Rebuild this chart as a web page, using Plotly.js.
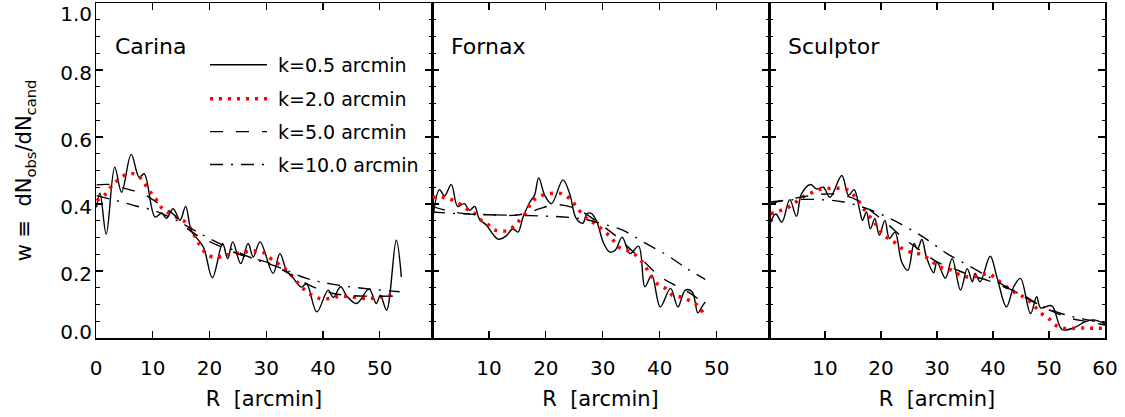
<!DOCTYPE html>
<html>
<head>
<meta charset="utf-8">
<script src="https://cdn.plot.ly/plotly-3.0.1.min.js"></script>
<style>html,body{margin:0;padding:0;background:#fff;}#chart{width:1125px;height:417px;}</style>
</head>
<body>
<div id="chart"></div>
<script>
// ---------- data ----------
const panelNames = ["Carina", "Fornax", "Sculptor"];
const seriesNames = ["k=0.5 arcmin", "k=2.0 arcmin", "k=5.0 arcmin", "k=10.0 arcmin"];
const xTickVals1 = [0, 10, 20, 30, 40, 50];
const xTickVals2 = [10, 20, 30, 40, 50];
const xTickVals3 = [10, 20, 30, 40, 50, 60];
const yTickVals = [0, 0.2, 0.4, 0.6, 0.8, 1.0];

// Carina
const carinaR05 = [0.1,0.7,1.8,3.3,4.5,6.2,7.6,8.5,10.4,11.6,12.4,13.6,14.8,15.8,16.8,18.9,20.5,22.3,23.2,24.1,25.5,26.8,27.7,28.9,31.2,32.4,33.6,34.7,36.2,37.1,38.9,40.9,41.8,43.1,44.2,45.9,48.1,49.4,50.1,51.2,52.9,53.8];
const carinaW05 = [0.39,0.432,0.31,0.51,0.435,0.548,0.48,0.49,0.361,0.373,0.357,0.386,0.351,0.393,0.321,0.272,0.18,0.282,0.237,0.287,0.222,0.282,0.242,0.287,0.193,0.252,0.2,0.18,0.152,0.162,0.078,0.143,0.121,0.153,0.125,0.103,0.146,0.103,0.128,0.083,0.292,0.182];
const carinaR2 = [0.1,1.7,2.6,3.75,5.2,6.7,8.0,9.0,9.9,10.8,11.7,13.0,14.8,16.1,17.0,17.8,18.5,19.6,21.1,22.8,24.6,26.4,27.8,29.3,30.8,32.1,33.3,34.7,36.5,38.0,39.4,41.2,43.0,44.7,47.7,50.6,52.6];
const carinaW2 = [0.41,0.43,0.45,0.47,0.487,0.49,0.475,0.45,0.429,0.409,0.386,0.371,0.356,0.341,0.316,0.292,0.272,0.249,0.24,0.247,0.252,0.257,0.26,0.257,0.237,0.222,0.207,0.182,0.148,0.128,0.118,0.118,0.125,0.123,0.118,0.123,0.133];
const carinaR5 = [0.1,2.4,5.4,8.3,10.7,13.6,15.5,17.5,20.2,24.3,27.0,30.0,33.0,35.9,38.9,41.8,44.5,47.7,53.2];
const carinaW5 = [0.457,0.458,0.445,0.43,0.405,0.37,0.335,0.31,0.286,0.256,0.24,0.227,0.202,0.173,0.148,0.133,0.127,0.125,0.125];
const carinaR10 = [0.1,3.6,6.6,10.1,14.2,18.3,23.0,27.7,32.4,37.1,41.8,47.7,53.5];
const carinaW10 = [0.425,0.41,0.396,0.381,0.351,0.312,0.272,0.237,0.21,0.178,0.16,0.147,0.138];

// Fornax
const fornaxR05 = [0,1.3,2.2,3.4,4.5,5.7,6.6,7.5,8.3,9.6,10.7,11.6,13.0,14.2,15.1,16.0,17.2,18.0,18.75,19.8,21.0,23.0,24.2,25.3,26.5,27.2,28.0,29.0,30.1,31.2,32.2,33.4,34.8,36.3,37.4,38.6,40.1,41.9,43.2,44.5,45.7,46.7,47.4,48.0];
const fornaxW05 = [0.336,0.443,0.424,0.458,0.393,0.401,0.381,0.393,0.356,0.336,0.31,0.295,0.304,0.326,0.316,0.361,0.406,0.426,0.478,0.426,0.401,0.472,0.43,0.358,0.343,0.371,0.372,0.345,0.285,0.257,0.262,0.301,0.252,0.274,0.153,0.187,0.093,0.148,0.093,0.143,0.138,0.075,0.093,0.108];
const fornaxR2 = [0.1,1.9,3.4,4.8,6.0,7.2,8.3,9.8,11.0,12.5,13.6,14.8,16.6,17.5,18.6,20.1,21.6,23.0,24.5,25.4,26.6,27.7,28.6,30.1,31.6,32.7,34.2,35.4,36.6,37.7,39.5,41.0,42.2,43.6,45.1,46.6,47.7];
const fornaxW2 = [0.42,0.42,0.413,0.401,0.386,0.376,0.356,0.339,0.323,0.319,0.323,0.341,0.376,0.406,0.42,0.43,0.432,0.43,0.411,0.391,0.366,0.351,0.341,0.321,0.297,0.272,0.262,0.252,0.234,0.207,0.163,0.148,0.128,0.123,0.113,0.098,0.073];
const fornaxR5 = [0,2.5,5.4,8.3,11.3,14.2,16.6,18.9,21.9,24.2,26.6,28.9,31.9,34.2,37.0,40.1,43.0,45.4,48.0];
const fornaxW5 = [0.393,0.381,0.372,0.369,0.367,0.366,0.372,0.386,0.398,0.392,0.375,0.348,0.31,0.275,0.232,0.183,0.155,0.133,0.1];
const fornaxR10 = [0,4.8,9.5,15.4,21.3,24.8,27.2,30.1,33.6,37.1,41.3,44.8,48.0];
const fornaxW10 = [0.376,0.371,0.368,0.366,0.363,0.359,0.353,0.34,0.321,0.287,0.247,0.207,0.175];

// Sculptor
const sculptorR05 = [0.2,1.2,2.3,3.7,4.9,5.8,7.4,8.5,9.7,10.9,13.0,14.2,15.2,16.2,16.7,17.4,18.1,18.9,19.7,20.7,21.5,22.5,23.7,24.8,25.9,26.5,27.3,28.1,29.4,30.0,31.5,32.7,34.2,35.4,36.3,36.8,37.7,39.5,40.7,42.4,43.7,44.9,46.7,47.8,48.5,50.5,52.3,54.4,56.5,57.9,60];
const sculptorW05 = [0.341,0.37,0.346,0.413,0.363,0.43,0.458,0.445,0.45,0.42,0.485,0.426,0.443,0.381,0.351,0.376,0.326,0.356,0.307,0.351,0.297,0.316,0.227,0.202,0.282,0.265,0.294,0.242,0.195,0.227,0.178,0.237,0.143,0.207,0.168,0.193,0.168,0.244,0.182,0.093,0.153,0.178,0.073,0.123,0.09,0.096,0.026,0.03,0.049,0.054,0.042];
const sculptorR2 = [0.3,1.8,3.3,4.8,5.9,7.4,8.9,10.4,12.2,13.9,15.5,16.9,19.0,20.5,22.3,23.8,25.6,27.0,28.5,30.0,31.2,32.7,34.2,36.0,37.7,39.2,40.7,42.2,43.7,44.9,46.3,47.5,48.7,49.9,51.1,52.6,54.7,56.5,57.9,59.7];
const sculptorW2 = [0.371,0.379,0.389,0.406,0.42,0.432,0.443,0.446,0.447,0.443,0.42,0.386,0.341,0.307,0.287,0.267,0.255,0.25,0.237,0.217,0.207,0.202,0.187,0.182,0.187,0.192,0.175,0.155,0.138,0.128,0.113,0.093,0.073,0.059,0.039,0.029,0.029,0.03,0.029,0.029];
const sculptorR5 = [0.2,2.7,5.6,9.2,12.8,15.8,18.1,21.1,24.1,27.0,30.0,33.0,36.0,38.9,41.9,44.9,47.8,50.8,53.8,56.8,60];
const sculptorW5 = [0.401,0.411,0.42,0.429,0.428,0.411,0.381,0.341,0.297,0.262,0.227,0.207,0.187,0.173,0.153,0.133,0.103,0.078,0.059,0.049,0.039];
const sculptorR10 = [0.2,4.5,9.2,13.4,17.5,22.3,27.0,28.8,31.8,36.6,41.3,46.1,49.0,52.6,55.6,60];
const sculptorW10 = [0.406,0.413,0.413,0.406,0.386,0.351,0.307,0.287,0.252,0.207,0.163,0.118,0.093,0.071,0.058,0.045];

// ---------- styles ----------
const styles = [
  {color: "#000000", width: 1.4, dash: "solid"},
  {color: "#ff0000", width: 3.5, dash: "3px,6px"},
  {color: "#000000", width: 1.4, dash: "13px,13px"},
  {color: "#000000", width: 1.4, dash: "13px,8px,2px,8px"}
];

const panels = [
  {R: [carinaR05, carinaR2, carinaR5, carinaR10], W: [carinaW05, carinaW2, carinaW5, carinaW10]},
  {R: [fornaxR05, fornaxR2, fornaxR5, fornaxR10], W: [fornaxW05, fornaxW2, fornaxW5, fornaxW10]},
  {R: [sculptorR05, sculptorR2, sculptorR5, sculptorR10], W: [sculptorW05, sculptorW2, sculptorW5, sculptorW10]}
];

const traces = [];
panels.forEach((p, pi) => {
  const xa = pi === 0 ? "x" : "x" + (pi + 1);
  const ya = pi === 0 ? "y" : "y" + (pi + 1);
  [0, 1, 2, 3].forEach(si => {
    traces.push({
      x: p.R[si], y: p.W[si], xaxis: xa, yaxis: ya,
      type: "scatter", mode: "lines", name: seriesNames[si], showlegend: false,
      line: {color: styles[si].color, width: styles[si].width, dash: styles[si].dash,
             shape: "spline", smoothing: 1.0},
      hoverinfo: "skip"
    });
  });
});
// carrier trace for the label-only overlay axis
traces.push({x: [], y: [], xaxis: "x", yaxis: "y4", type: "scatter", mode: "lines", showlegend: false, hoverinfo: "skip"});

const FONT = "DejaVu Sans, Liberation Sans, sans-serif";
const W = 1125, H = 417;
const mL = 96, mR = 20, mT = 3, mB = 79;
const plotW = W - mL - mR, plotH = H - mT - mB;
const d1 = 336 / plotW, d2 = 673 / plotW;

function xAxis(dom, range, ticks, anchor) {
  return {
    domain: dom, range: range, anchor: anchor,
    tickmode: "array", tickvals: ticks, ticktext: ticks.map(String),
    ticks: "inside", ticklen: 7, tickwidth: 1.2, tickcolor: "#000",
    showline: true, linecolor: "#000", linewidth: 1.5, mirror: "ticks",
    showgrid: false, zeroline: false,
    tickfont: {family: FONT, size: 20, color: "#000"},
    ticklabelstandoff: 11,
    title: {text: "R  [arcmin]", font: {family: FONT, size: 21, color: "#000"}, standoff: 13},
    fixedrange: true
  };
}
function yAxis(anchor) {
  return {
    domain: [0, 1], range: [0, 1], anchor: anchor,
    tickmode: "array", tickvals: yTickVals, showticklabels: false,
    ticks: "inside", ticklen: 7, tickwidth: 1.2, tickcolor: "#000",
    minor: {dtick: 0.05, ticks: "inside", ticklen: 3.5, tickwidth: 1.2, tickcolor: "#000", showgrid: false},
    showline: true, linecolor: "#000", linewidth: 1.5, mirror: "ticks",
    showgrid: false, zeroline: false,
    fixedrange: true
  };
}

// label positions nudged inward at the ends, as in the reference (IDL style)
const yLabelPos = yTickVals.map(v => v === 0 ? 0.018 : (v === 1 ? 0.968 : v - 0.009));

const layout = {
  width: W, height: H,
  margin: {l: mL, r: mR, t: mT, b: mB, pad: 0},
  paper_bgcolor: "#fff", plot_bgcolor: "#fff",
  showlegend: false,
  xaxis: xAxis([0, d1], [0, 59.2], xTickVals1, "y"),
  xaxis2: xAxis([d1, d2], [0, 59.2], xTickVals2, "y2"),
  xaxis3: xAxis([d2, 1], [0, 60], xTickVals3, "y3"),
  yaxis: yAxis("x"),
  yaxis2: yAxis("x2"),
  yaxis3: yAxis("x3"),
  yaxis4: {
    overlaying: "y", anchor: "x", side: "left", domain: [0, 1], range: [0, 1],
    tickmode: "array", tickvals: yLabelPos, ticktext: yTickVals.map(v => v.toFixed(1)),
    ticks: "", showline: false, showgrid: false, zeroline: false,
    tickfont: {family: FONT, size: 20, color: "#000"},
    ticklabelstandoff: 3, ticklabeloverflow: "allow",
    title: {text: "w \u2261  dN<sub>obs</sub>/dN<sub>cand</sub>", font: {family: FONT, size: 21, color: "#000"}, standoff: 22},
    fixedrange: true
  },
  annotations: [],
  shapes: []
};

// panel labels
["x", "x2", "x3"].forEach((xa, i) => {
  const ya = i === 0 ? "y" : "y" + (i + 1);
  layout.annotations.push({
    text: panelNames[i], xref: xa + " domain", yref: ya + " domain",
    x: 0.05, y: (338 - 46) / 336, xanchor: "left", yanchor: "middle",
    showarrow: false, font: {family: FONT, size: 22, color: "#000"}
  });
});

// manual legend in first panel
const legRows = [64, 98, 131, 164];
legRows.forEach((py, i) => {
  const yp = (338 - py) / 336;
  layout.shapes.push({
    type: "line", xref: "paper", yref: "paper",
    x0: (210 - mL) / plotW, x1: (267 - mL) / plotW, y0: yp, y1: yp,
    line: {color: styles[i].color, width: styles[i].width, dash: styles[i].dash}
  });
  layout.annotations.push({
    text: seriesNames[i], xref: "paper", yref: "paper",
    x: (276 - mL) / plotW, y: yp, xanchor: "left", yanchor: "middle",
    showarrow: false, font: {family: FONT, size: 19, color: "#000"}
  });
});

Plotly.newPlot("chart", traces, layout, {displayModeBar: false, staticPlot: true});
</script>
</body>
</html>
